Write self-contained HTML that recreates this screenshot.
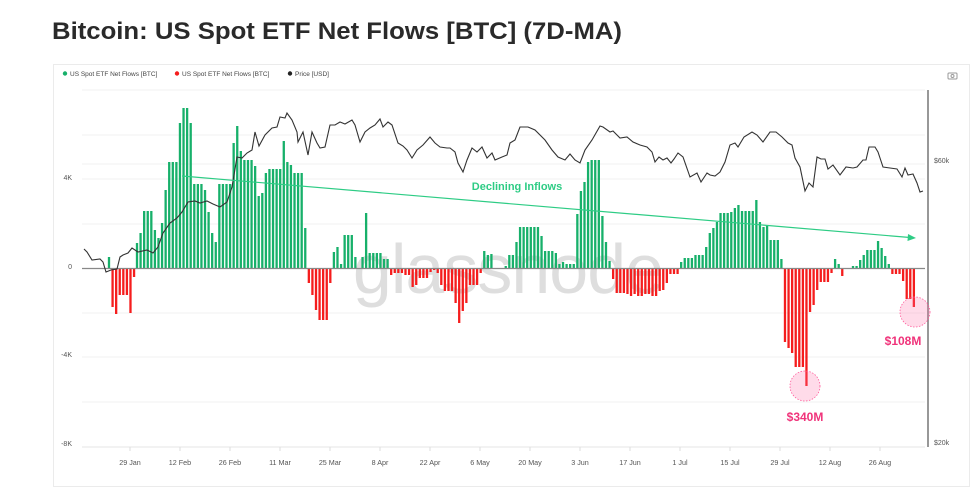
<!DOCTYPE html>
<html><head><meta charset="utf-8"><style>
body{margin:0;background:#fff;width:978px;height:492px;overflow:hidden;font-family:"Liberation Sans",sans-serif}
</style></head><body>
<svg width="978" height="492" xmlns="http://www.w3.org/2000/svg" font-family="Liberation Sans, sans-serif">
<text x="52" y="39" font-size="24" font-weight="bold" fill="#2a2a2a" textLength="570" lengthAdjust="spacingAndGlyphs">Bitcoin: US Spot ETF Net Flows [BTC] (7D-MA)</text>
<rect x="53.5" y="64.5" width="916" height="422" fill="#fff" stroke="#ebebeb"/>
<g font-size="6.5" fill="#444">
<circle cx="65" cy="73.5" r="2.2" fill="#17b06a"/><text x="70" y="76">US Spot ETF Net Flows [BTC]</text>
<circle cx="177" cy="73.5" r="2.2" fill="#f51d1d"/><text x="182" y="76">US Spot ETF Net Flows [BTC]</text>
<circle cx="290" cy="73.5" r="2.2" fill="#222"/><text x="295" y="76">Price [USD]</text>
</g>
<rect x="948" y="73" width="9" height="6" rx="1" fill="none" stroke="#999" stroke-width="1"/><circle cx="952.5" cy="76" r="1.5" fill="none" stroke="#999"/>
<g stroke="#f1f1f1" stroke-width="1">
<line x1="82" y1="90" x2="925" y2="90"/><line x1="82" y1="135" x2="925" y2="135"/><line x1="82" y1="164" x2="925" y2="164"/><line x1="82" y1="179" x2="925" y2="179"/><line x1="82" y1="224" x2="925" y2="224"/><line x1="82" y1="313" x2="925" y2="313"/><line x1="82" y1="357" x2="925" y2="357"/><line x1="82" y1="402" x2="925" y2="402"/>
</g>
<line x1="82" y1="447" x2="925" y2="447" stroke="#e6e6e6"/>
<text x="508" y="293" font-size="70" fill="#dedede" text-anchor="middle" letter-spacing="-1">glassnode</text>
<g id="bars"></g>
<line x1="82" y1="268.5" x2="925" y2="268.5" stroke="#888" stroke-width="1.2"/>
<line x1="928" y1="90" x2="928" y2="447" stroke="#777" stroke-width="1.5"/>
<g font-size="7" fill="#555">
<text x="72" y="180" text-anchor="end">4K</text><text x="72" y="269" text-anchor="end">0</text>
<text x="72" y="357" text-anchor="end">-4K</text><text x="72" y="446" text-anchor="end">-8K</text>
<text x="934" y="163">$60k</text><text x="934" y="445">$20k</text>
</g>
<g font-size="7.2" fill="#555" text-anchor="middle" id="xl"></g>
<polyline id="price" fill="none" stroke="#333" stroke-width="1.1" points=""/>
<line x1="182" y1="176" x2="910" y2="237.5" stroke="#2ecc85" stroke-width="1.2"/>
<polygon points="916,238 908,234 907.5,241" fill="#2ecc85"/>
<text x="517" y="190" font-size="11" font-weight="bold" fill="#2ecc85" text-anchor="middle">Declining Inflows</text>
<circle cx="805" cy="386" r="15" fill="#ff6fa8" fill-opacity="0.25" stroke="#ff5c9b" stroke-dasharray="1.5,1.5" stroke-width="0.8"/>
<circle cx="915" cy="312" r="15" fill="#ff6fa8" fill-opacity="0.25" stroke="#ff5c9b" stroke-dasharray="1.5,1.5" stroke-width="0.8"/>
<text x="805" y="421" font-size="12" font-weight="bold" fill="#f0337a" text-anchor="middle">$340M</text>
<text x="903" y="345" font-size="12" font-weight="bold" fill="#f0337a" text-anchor="middle">$108M</text>
</svg>
<script>
var segs=[
[109,[11,-39,-46,-27,-27,-27,-45,-9]],
[137,[25,35,57,57,57,38,30,45,78,106,106,106,145,160,160,145,84,84,84,78,56,35,26,84,84,84,84,125,142,117,108,108,108,102,72,75,95,99,99,99,99,127,106,103,95,95,95,40,-15,-27,-42,-52,-52,-52,-15,16,21,4,33,33,33,11,0,11,55,15,15,15,15,9,9,-7,-5,-5,-5,-7,-7,-19,-17,-10,-10,-10,-4,-2,-5,-17,-23,-23,-23,-35,-55,-43,-35,-17,-17,-17,-5,17,13,14,0,0,0,2,13,13,26,41,41,41,41,41,41,32,17,17,17,15,4,6,4,4,4,54,77,86,106,108,108,108,52,26,7,-11,-25,-25,-25,-26,-28,-26,-28,-28,-26,-26,-28,-28,-23,-22,-15,-6,-6,-6,6,10,10,10,13,13,13,21,35,40,46,55,55,55,56,60,63,57,57,57,57,68,46,41,43,28,28,28,9,-74,-80,-85,-99,-99,-99,-118,-44,-37,-22,-14,-14,-14,-5,9,4,-8,0,0,2,2,8,13,18,18,18,27,20,12,4,-6,-6,-6,-13,-31,-31,-39]]];
var ns="http://www.w3.org/2000/svg",g=document.getElementById('bars');
segs.forEach(function(s){var x0=s[0];s[1].forEach(function(h,i){if(!h)return;var r=document.createElementNS(ns,'rect');var x=x0+i*3.58-1.15;r.setAttribute('x',x.toFixed(2));r.setAttribute('width','2.3');r.setAttribute('y',h>0?268-h:268);r.setAttribute('height',Math.abs(h));r.setAttribute('fill',h>0?'#17b06a':'#f51d1d');g.appendChild(r);});});
var lab=['29 Jan','12 Feb','26 Feb','11 Mar','25 Mar','8 Apr','22 Apr','6 May','20 May','3 Jun','17 Jun','1 Jul','15 Jul','29 Jul','12 Aug','26 Aug'];
var xl=document.getElementById('xl');
lab.forEach(function(t,i){var x=130+i*50;var l=document.createElementNS(ns,'line');l.setAttribute('x1',x);l.setAttribute('x2',x);l.setAttribute('y1',447);l.setAttribute('y2',451);l.setAttribute('stroke','#ddd');xl.appendChild(l);var e=document.createElementNS(ns,'text');e.setAttribute('x',x);e.setAttribute('y',465);e.textContent=t;xl.appendChild(e);});
document.getElementById('price').setAttribute('points',"84,249 87,252 92,260 100,259 103,262 106,272 111,270 117,269 120,257 123,255 128,253 132,248 138,252 147,250 153,253 158,247 163,233 170,223 177,218 182,212 188,202 195,201 200,203 207,201 213,204 220,207 227,202 232,187 237,157 242,158 247,153 252,150 255,132 259,146 265,135 272,128 277,127 280,117 285,118 287,113 292,120 297,132 298,142 303,132 308,155 312,132 317,143 320,148 325,147 330,125 335,125 340,122 345,124 352,120 355,125 360,142 365,132 370,128 375,125 380,119 383,127 388,122 392,125 398,143 403,146 407,150 412,158 417,150 423,145 430,137 435,143 440,147 447,148 450,148 455,152 458,163 463,172 467,160 472,148 477,152 482,147 487,158 492,153 495,160 502,157 507,155 510,143 515,140 520,127 528,127 535,130 545,140 552,150 558,157 565,160 570,154 575,160 580,163 585,150 592,140 600,126 603,127 610,132 613,131 620,138 627,137 633,142 640,145 647,147 652,152 655,162 659,157 663,160 667,158 671,163 674,159 678,153 683,157 690,177 697,173 701,182 707,173 710,175 715,176 720,172 725,162 730,145 735,143 738,147 744,137 752,132 757,135 763,142 770,132 776,132 782,137 788,143 792,145 795,158 800,167 805,191 809,183 813,187 817,157 821,159 825,159 828,169 833,165 840,175 846,167 853,168 857,167 863,160 866,160 869,147 875,147 878,152 883,167 890,168 897,169 902,177 905,168 908,175 913,174 917,183 920,192 923,191");
</script>
</body></html>
